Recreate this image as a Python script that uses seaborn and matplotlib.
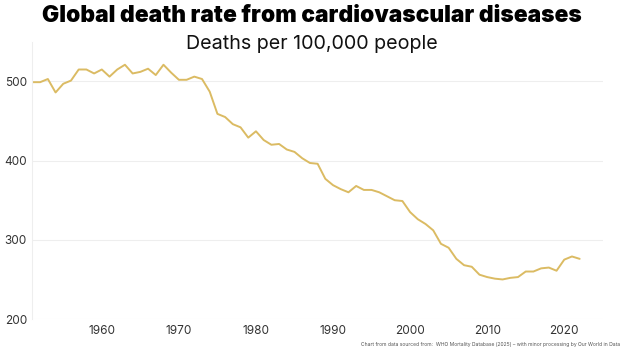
import matplotlib
matplotlib.use("Agg")
import matplotlib.pyplot as plt
import pandas as pd
import seaborn as sns

years = list(range(1951, 2023))
death_rate = [
    499, 499, 503, 486, 497, 501, 515, 515, 510, 515,
    506, 515, 521, 510, 512, 516, 508, 521, 511, 502,
    502, 506, 503, 487, 459, 455, 446, 442, 429, 437,
    426, 420, 421, 414, 411, 403, 397, 396, 377, 369,
    364, 360, 368, 363, 363, 360, 355, 350, 349, 335,
    326, 320, 312, 295, 290, 276, 268, 266, 256, 253,
    251, 250, 252, 253, 260, 260, 264, 265, 261, 275,
    279, 276,
]
x_ticks = [1960, 1970, 1980, 1990, 2000, 2010, 2020]
y_ticks = [200, 300, 400, 500]

df = pd.DataFrame({"year": years, "rate": death_rate})

sns.set_theme(style="white")
plt.rcParams["font.family"] = ["Inter", "DejaVu Sans"]

fig = plt.figure(figsize=(6.24, 3.51), dpi=100)
ax = fig.add_axes([0.052, 0.091, 0.914, 0.79])

sns.lineplot(data=df, x="year", y="rate", color="#dbbb63", linewidth=1.4, ax=ax)

ax.set_xlim(1951, 2025)
ax.set_ylim(200, 550)
ax.set_xticks(x_ticks)
ax.set_yticks(y_ticks)
ax.tick_params(axis="both", length=0, labelsize=8.5, colors="#333333", pad=4)
ax.grid(axis="y", color="#eeeeee", linewidth=0.8)
ax.set_xlabel("")
ax.set_ylabel("")
for side in ["top", "right", "bottom"]:
    ax.spines[side].set_visible(False)
ax.spines["left"].set_color("#eeeeee")
ax.spines["left"].set_linewidth(0.8)

fig.text(0.5, 0.955, "Global death rate from cardiovascular diseases",
         ha="center", va="center", fontsize=16.4, fontweight="black", color="black")
fig.text(0.5, 0.875, "Deaths per 100,000 people",
         ha="center", va="center", fontsize=14.2, color="#111111")
fig.text(0.993, 0.012,
         "Chart from data sourced from:  WHO Mortality Database (2025) \u2013 with minor processing by Our World in Data",
         ha="right", va="bottom", fontsize=3.6, color="#555555")

fig.savefig("out.png", dpi=100, facecolor="white")
